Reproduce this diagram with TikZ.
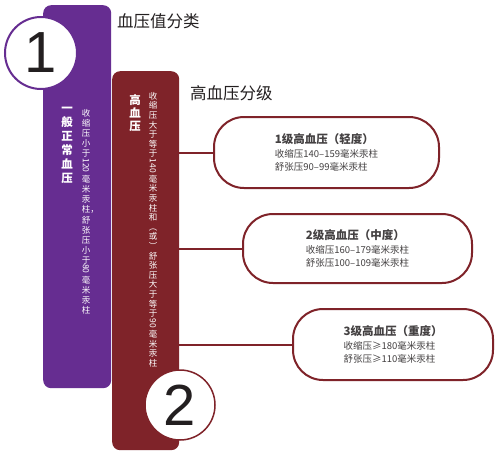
\documentclass[tikz,border=0pt]{standalone}
\usepackage{fontspec}
\usepackage{graphicx}
\setmainfont{Noto Sans CJK SC}
\newfontfamily\numfont{Liberation Sans}
\usetikzlibrary{positioning}
\definecolor{bpviolet}{RGB}{102, 45, 145}
\definecolor{bpred}{RGB}{127, 35, 41}
\definecolor{bpink}{RGB}{35, 31, 32}
\newcommand\vnum[1]{\raisebox{\depth}{\rotatebox{-90}{#1}}}
\newcommand\gradetitle[1]{{\fontsize{11.5}{15}\selectfont\bfseries #1}}

\begin{document}
\begin{tikzpicture}[
        x=1pt, y=-1pt,
        bar/.style={rounded corners=8pt, inner sep=0pt, anchor=north west},
        badge/.style={circle, draw, fill=white, inner sep=0pt, text=bpink, font=\fontsize{58}{58}\selectfont\numfont},
        heading/.style={anchor=west, inner sep=0pt, text=bpink, font=\fontsize{16.5}{18}\selectfont},
        vbold/.style={anchor=north, align=center, inner sep=0pt, text=white, font=\fontsize{11.5}{13}\selectfont\bfseries},
        vsmall/.style={anchor=north, align=center, inner sep=0pt, text=white, font=\fontsize{8.5}{9.6}\selectfont},
        grade/.style={draw=bpred, line width=2pt, rounded corners=30pt, fill=white, align=left, text=bpink!85, font=\fontsize{9.5}{13.5}\selectfont},
        link/.style={draw=bpred, line width=2pt},
    ]
        \fill[white] (0,0) rectangle (497,458);
        \useasboundingbox (0,0) rectangle (497,458);

        % --- Bars ---
        \node[bar, fill=bpviolet, minimum width=68pt, minimum height=383pt] (normalbar) at (43,5) {};
        \node[bar, fill=bpred, minimum width=67pt, minimum height=379pt] (highbar) at (112,71) {};

        % --- Headings ---
        \node[heading] (classhead) at (117,21) {血压值分类};
        \node[heading] (gradehead) at (190,93) {高血压分级};

        % --- Vertical texts ---
        \node[vbold, font=\fontsize{11.5}{14}\selectfont\bfseries] (normalname) at (67,107) {一\\般\\正\\常\\血\\压};
        \node[vsmall, font=\fontsize{8.5}{10.1}\selectfont] (normalnote) at (86,109) {收\\缩\\压\\小\\于\\\vnum{120}\\毫\\米\\汞\\柱\rlap{，}\\舒\\张\\压\\小\\于\\\vnum{80}\\毫\\米\\汞\\柱};
        \node[vbold] (highname) at (135,94) {高\\血\\压};
        \node[vsmall] (highnote) at (153,92) {收\\缩\\压\\大\\于\\等\\于\\\vnum{140}\\毫\\米\\汞\\柱\\和\\︵\\或\\︶\\舒\\张\\压\\大\\于\\等\\于\\\vnum{90}\\毫\\米\\汞\\柱};

        % --- Number badges ---
        \node[badge, draw=bpviolet, line width=2pt, minimum size=72pt] (one) at (41,53) {1};
        \node[badge, draw=bpred, line width=1.5pt, minimum size=70pt] (two) at (180,405) {2};

        % --- Grades ---
        \node[grade, minimum width=225pt, minimum height=71pt] (mild) at (326.5,152.5) {\gradetitle{1级高血压（轻度）}\\收缩压140–159毫米汞柱\\舒张压90–99毫米汞柱};
        \node[grade, minimum width=229pt, minimum height=69pt] (moderate) at (357.5,248.5) {\gradetitle{2级高血压（中度）}\\收缩压160–179毫米汞柱\\舒张压100–109毫米汞柱};
        \node[grade, minimum width=200pt, minimum height=71pt] (severe) at (393,344.5) {\gradetitle{3级高血压（重度）}\\收缩压≥180毫米汞柱\\舒张压≥110毫米汞柱};

        % --- Links from bar to grades ---
        \draw[link] (highbar.east |- mild.west) -- (mild.west);
        \draw[link] (highbar.east |- moderate.west) -- (moderate.west);
        \draw[link] (highbar.east |- severe.west) -- (severe.west);

    \end{tikzpicture}
\end{document}
